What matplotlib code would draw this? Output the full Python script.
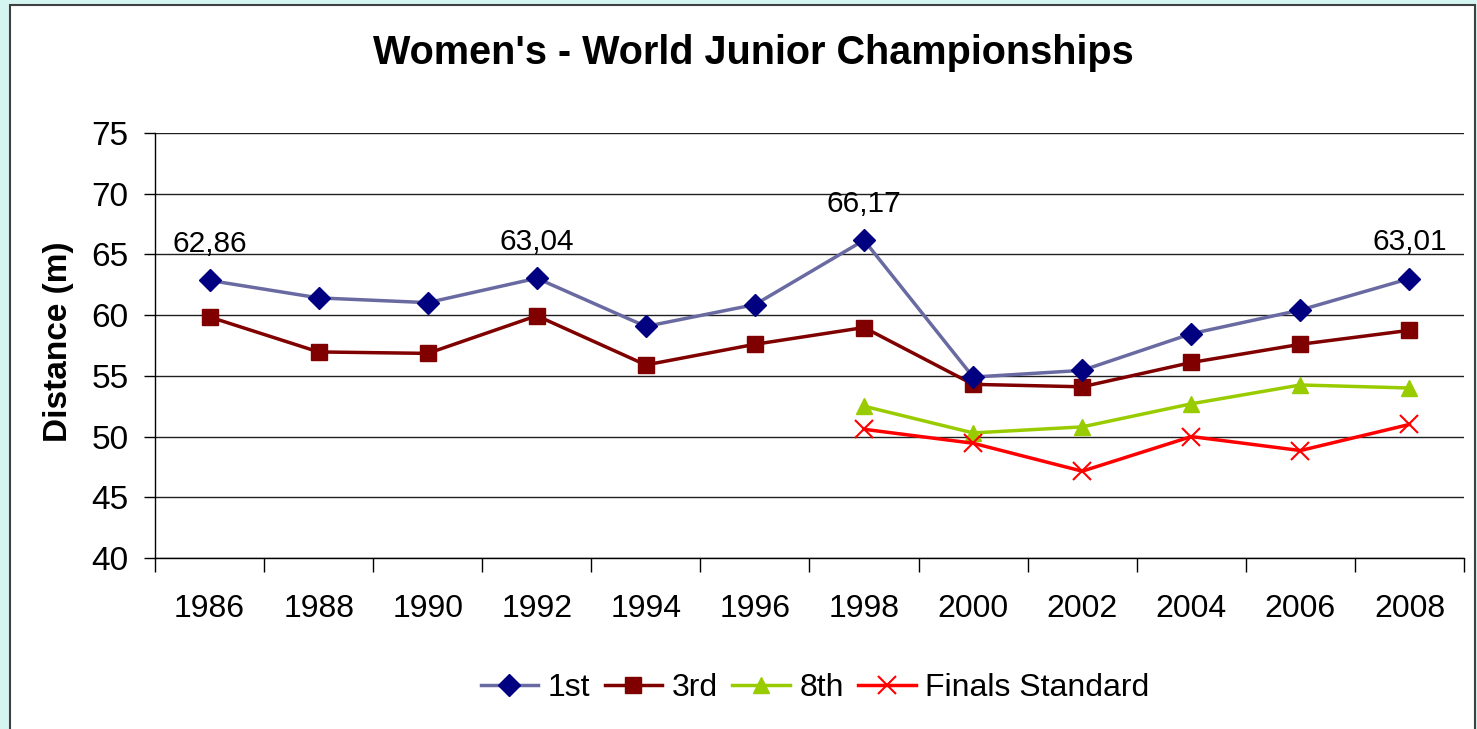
import matplotlib
matplotlib.use("Agg")
import matplotlib.pyplot as plt
from matplotlib.patches import Rectangle
import numpy as np

years = ["1986", "1988", "1990", "1992", "1994", "1996", "1998", "2000", "2002", "2004", "2006", "2008"]
first = [62.86, 61.42, 61.03, 63.04, 59.07, 60.87, 66.17, 54.9, 55.45, 58.47, 60.42, 63.01]
third = [59.85, 56.97, 56.85, 59.95, 55.9, 57.6, 58.98, 54.3, 54.1, 56.1, 57.6, 58.75]
eighth = [None, None, None, None, None, None, 52.5, 50.3, 50.8, 52.7, 54.25, 54.0]
finals = [None, None, None, None, None, None, 50.6, 49.45, 47.15, 50.0, 48.85, 51.0]
labelled = {0: "62,86", 3: "63,04", 6: "66,17", 11: "63,01"}

plt.rcParams['font.family'] = ['Liberation Sans', 'DejaVu Sans']

fig = plt.figure(figsize=(14.77, 7.29), dpi=100)
fig.patch.set_facecolor('#D5F5F3')
fig.patches.append(Rectangle((10/1477, -0.01), 1475/1477 - 10/1477, 1.01 - 5/729,
                             transform=fig.transFigure, facecolor='white',
                             edgecolor='#404040', linewidth=1.5, zorder=-10))

ax = fig.add_axes([155/1477, 1 - 558/729, (1464 - 155)/1477, (558 - 133)/729])
ax.set_facecolor('none')
ax.set_zorder(5)

x = np.arange(len(years))

def arr(v):
    return np.array([np.nan if a is None else a for a in v], dtype=float)

ax.plot(x, arr(first), color='#6A6AA2', lw=2.5, marker='D', ms=11,
        markerfacecolor='#000080', markeredgecolor='#000080', label='1st', zorder=5)
ax.plot(x, arr(third), color='#800000', lw=2.5, marker='s', ms=11,
        markerfacecolor='#800000', markeredgecolor='#800000', label='3rd', zorder=4)
ax.plot(x, arr(eighth), color='#99CC00', lw=2.5, marker='^', ms=12,
        markerfacecolor='#99CC00', markeredgecolor='#99CC00', label='8th', zorder=3)
ax.plot(x, arr(finals), color='#FF0000', lw=2.5, marker='x', ms=13, mew=1.5,
        markerfacecolor='#FF0000', markeredgecolor='#FF0000', label='Finals Standard', zorder=3)

for i, t in labelled.items():
    ax.annotate(t, (x[i], first[i]), xytext=(0, 16), textcoords='offset points',
                ha='center', va='bottom', fontsize=21.5, color='black')

ax.set_xlim(-0.5, len(years) - 0.5)
ax.set_ylim(40, 75)
ax.set_yticks(np.arange(40, 76, 5))
ax.set_yticklabels([str(v) for v in range(40, 76, 5)], fontsize=24)
ax.set_xticks(x)
ax.set_xticklabels(years, fontsize=23)
ax.tick_params(axis='x', length=0, pad=26)
ax.set_xticks(np.arange(-0.5, len(years), 1), minor=True)
ax.tick_params(axis='x', which='minor', length=10, width=1, color='black', direction='out')
ax.tick_params(axis='y', length=8, width=1, direction='out', pad=11)
ax.grid(axis='y', color='#202020', lw=1)
ax.set_axisbelow(True)
for s in ['top', 'right']:
    ax.spines[s].set_visible(False)
for s in ['left', 'bottom']:
    ax.spines[s].set_color('black')
    ax.spines[s].set_linewidth(1)

ax.set_ylabel('Distance (m)', fontsize=24, fontweight='bold', va='center')
ax.yaxis.set_label_coords((59 - 155) / 1309, 1 - (342 - 133) / 425)

fig.text(753/1477, 1 - 53/729, "Women's - World Junior Championships", ha='center', va='center',
         fontsize=28.5, fontweight='bold')

leg = fig.legend(loc='center', bbox_to_anchor=(815/1477, 1 - 688/729), ncol=4, frameon=False,
                 fontsize=23, handlelength=1.8, handletextpad=0.3, columnspacing=0.45)

fig.savefig('out.png', dpi=100, facecolor=fig.get_facecolor())
